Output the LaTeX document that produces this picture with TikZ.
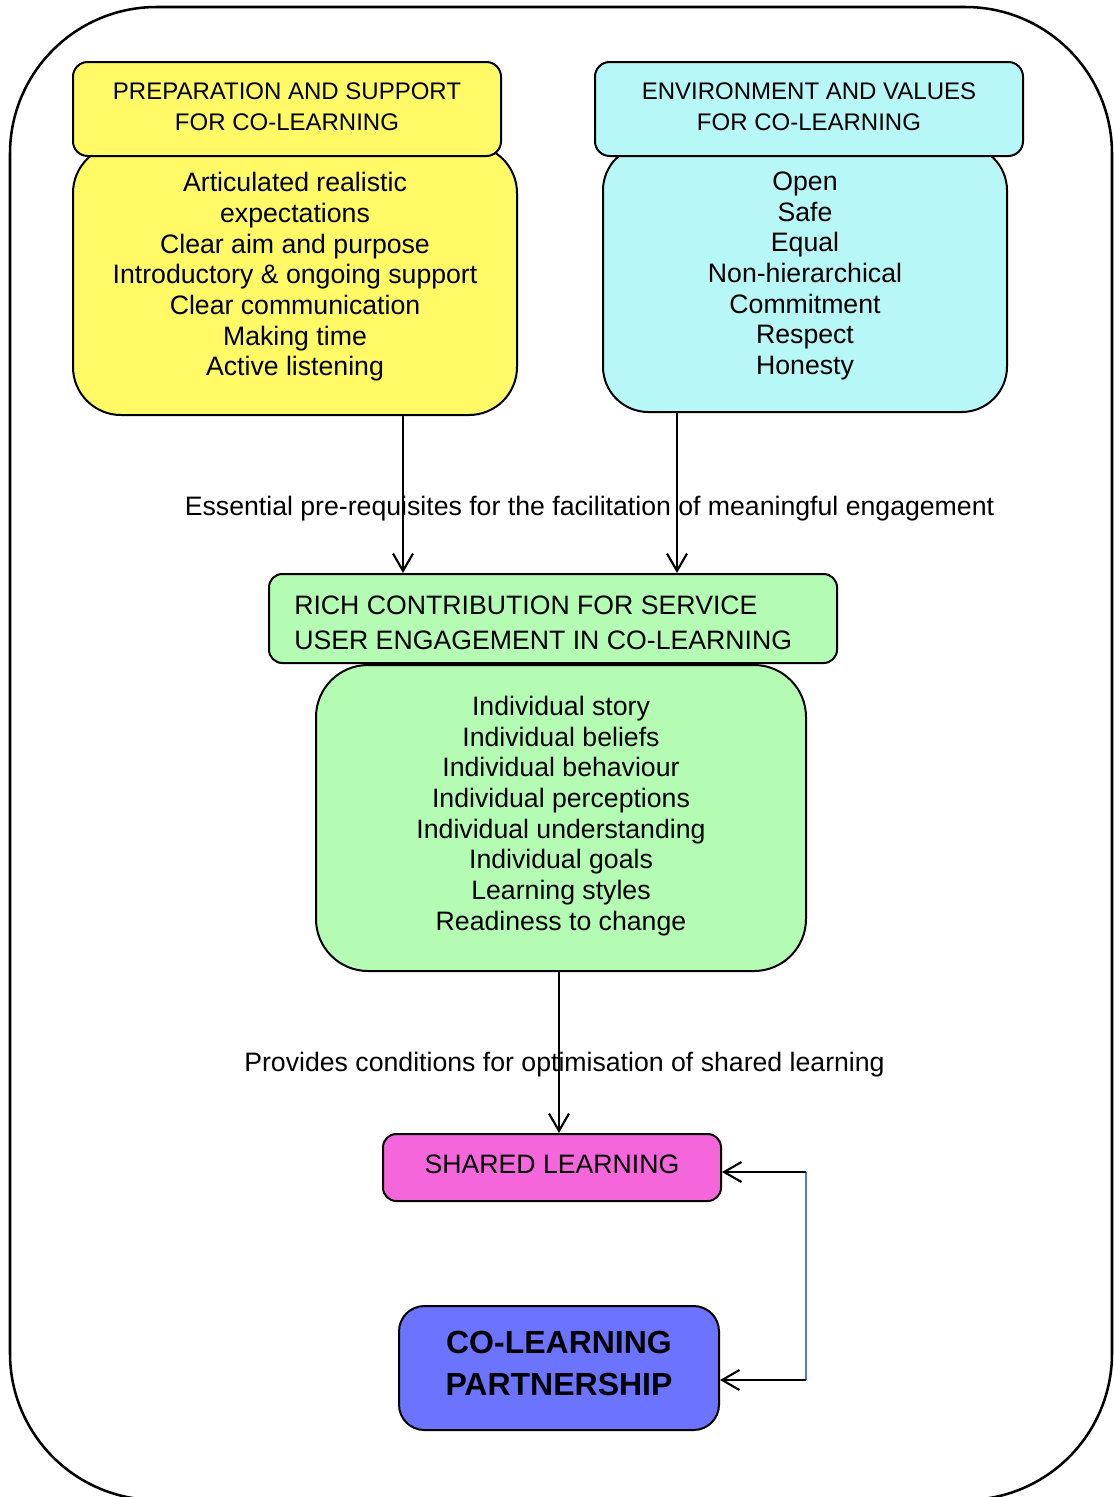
\documentclass[tikz,border=0pt]{standalone}
\usepackage{fontspec}
\setmainfont{Liberation Sans}
\usetikzlibrary{arrows.meta}
\definecolor{cyel}{RGB}{255,250,102}
\definecolor{ccyan}{RGB}{183,247,247}
\definecolor{cgrn}{RGB}{180,252,180}
\definecolor{cpink}{RGB}{245,102,220}
\definecolor{cblue}{RGB}{107,115,255}
\definecolor{cline}{RGB}{79,129,189}
\begin{document}
\begin{tikzpicture}[x=0.75pt,y=-0.75pt,
  box/.style={draw=black, line width=1.5pt, inner sep=0pt, rectangle},
  hdr/.style={box, rounded corners=11pt, minimum width=321pt, minimum height=70.5pt,
    align=center, font=\fontsize{18}{23.25}\selectfont},
  bodytxt/.style={align=center, inner sep=0pt, font=\fontsize{20}{23}\selectfont},
  lbl/.style={inner sep=0pt, font=\fontsize{20}{23}\selectfont},
  arr/.style={line width=1.6pt, -{Straight Barb[length=13pt,width=15pt,line width=1.6pt]}},
]
\useasboundingbox (0,0) rectangle (1114,1497);
% outer frame
\draw[line width=1.9pt, rounded corners=110pt] (10,7) rectangle (1112,1500);

% yellow
\node[box, fill=cyel, rounded corners=36pt, minimum width=333pt, minimum height=202.5pt] (yb) at (295,280) {};
\node[bodytxt] (ybt) at (295,277) {Articulated realistic\\expectations\\Clear aim and purpose\\Introductory \& ongoing support\\Clear communication\\Making time\\Active listening};
\node[box, fill=cyel, rounded corners=11pt, minimum width=321pt, minimum height=70.5pt] (yh) at (287,109) {};
\node[align=center, inner sep=0pt, font=\fontsize{18}{23.25}\selectfont] (yht) at (287,107) {PREPARATION AND SUPPORT\\FOR CO-LEARNING};

% cyan
\node[box, fill=ccyan, rounded corners=34pt, minimum width=303pt, minimum height=200.25pt] (cb) at (805,278.5) {};
\node[bodytxt] (cbt) at (805,276) {Open\\Safe\\Equal\\Non-hierarchical\\Commitment\\Respect\\Honesty};
\node[box, fill=ccyan, rounded corners=11pt, minimum width=321pt, minimum height=70.5pt] (ch) at (809,109) {};
\node[align=center, inner sep=0pt, font=\fontsize{18}{23.25}\selectfont] (cht) at (809,107) {ENVIRONMENT AND VALUES\\FOR CO-LEARNING};

% label 1
\node[lbl] (l1) at (589.5,509) {Essential pre-requisites for the facilitation of meaningful engagement};

% green
\node[box, fill=cgrn, rounded corners=39pt, minimum width=367.5pt, minimum height=229.5pt] (gb) at (561,818) {};
\node[bodytxt] (gbt) at (561,816) {Individual story\\Individual beliefs\\Individual behaviour\\Individual perceptions\\Individual understanding\\Individual goals\\Learning styles\\Readiness to change};
\node[box, fill=cgrn, rounded corners=10pt, minimum width=426pt, minimum height=66.75pt] (gh) at (553,618.5) {};
\node[align=left, anchor=west, inner sep=0pt, font=\fontsize{20}{26.25}\selectfont] (ght) at (294,623) {RICH CONTRIBUTION FOR SERVICE\\USER ENGAGEMENT IN CO-LEARNING};

% label 2
\node[lbl] (l2) at (564.5,1065) {Provides conditions for optimisation of shared learning};

% pink
\node[box, fill=cpink, rounded corners=10pt, minimum width=253.5pt, minimum height=50.25pt] (pk) at (552,1167.5) {};
\node[lbl] (pkt) at (552,1164) {SHARED LEARNING};

% blue
\node[box, fill=cblue, rounded corners=19pt, minimum width=240pt, minimum height=93pt] (bl) at (559,1368) {};
\node[align=center, inner sep=0pt, font=\fontsize{24}{31.5}\selectfont\bfseries] (blt) at (559,1363) {CO-LEARNING\\PARTNERSHIP};

% arrows
\coordinate (a1) at (403,0);
\coordinate (a2) at (677,0);
\coordinate (a3) at (559,0);
\draw[arr] ([yshift=1.5pt]yb.south -| a1) -- (gh.north -| a1);
\draw[arr] (cb.south -| a2) -- (gh.north -| a2);
\draw[arr] (gb.south -| a3) -- (pk.north -| a3);

\coordinate (c1) at (806,1172);
\coordinate (c2) at (806,1380);
\draw[line width=0.9pt, cline] (c1) -- (c2);
\draw[arr] (c1) -- (pk.east |- c1);
\draw[arr] (c2) -- (bl.east |- c2);
\end{tikzpicture}
\end{document}
